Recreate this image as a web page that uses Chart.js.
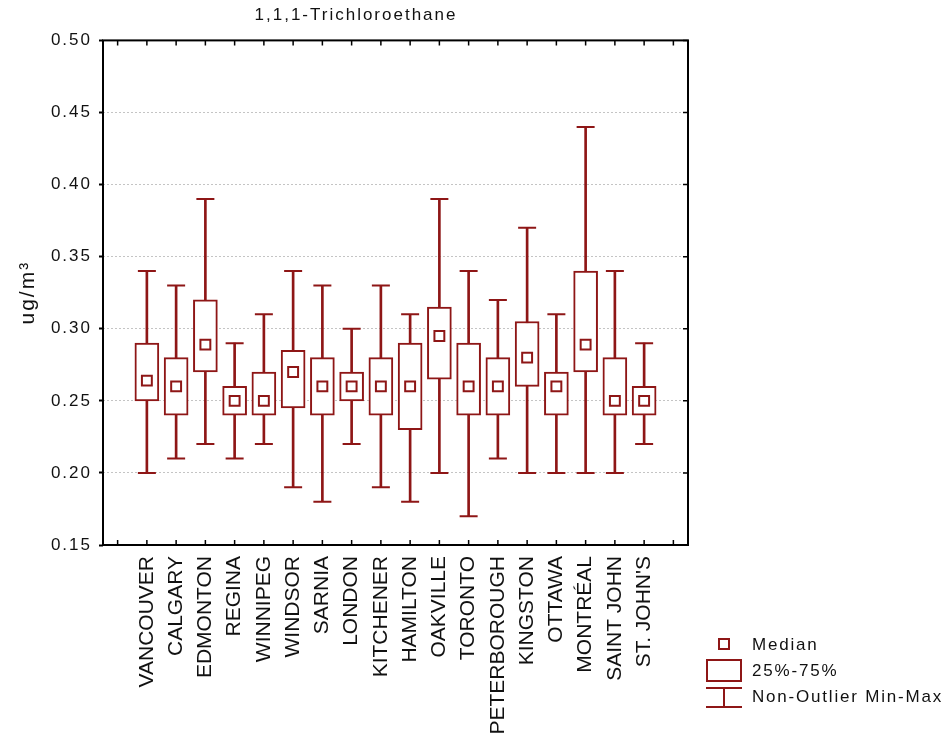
<!DOCTYPE html>
<html>
<head>
<meta charset="utf-8">
<script src="https://cdn.jsdelivr.net/npm/chart.js@4/dist/chart.umd.min.js"></script>
<style>
  html, body { margin: 0; padding: 0; background: #fff; }
  #wrap { width: 948px; height: 740px; }
</style>
</head>
<body>
<div id="wrap"><canvas id="grafico" width="948" height="740"></canvas></div>
<script>
const cities = ["VANCOUVER", "CALGARY", "EDMONTON", "REGINA", "WINNIPEG", "WINDSOR", "SARNIA",
    "LONDON", "KITCHENER", "HAMILTON", "OAKVILLE", "TORONTO", "PETERBOROUGH", "KINGSTON",
    "OTTAWA", "MONTRÉAL", "SAINT JOHN", "ST. JOHN'S"];
const minValues    = [0.20, 0.21, 0.22, 0.21, 0.22, 0.19, 0.18, 0.22, 0.19, 0.18, 0.20, 0.17, 0.21, 0.20, 0.20, 0.20, 0.20, 0.22];
const q1Values     = [0.25, 0.24, 0.27, 0.24, 0.24, 0.245, 0.24, 0.25, 0.24, 0.23, 0.265, 0.24, 0.24, 0.26, 0.24, 0.27, 0.24, 0.24];
const medianValues = [0.264, 0.26, 0.289, 0.25, 0.25, 0.27, 0.26, 0.26, 0.26, 0.26, 0.295, 0.26, 0.26, 0.28, 0.26, 0.289, 0.25, 0.25];
const q3Values     = [0.29, 0.28, 0.32, 0.26, 0.27, 0.285, 0.28, 0.27, 0.28, 0.29, 0.315, 0.29, 0.28, 0.305, 0.27, 0.34, 0.28, 0.26];
const maxValues    = [0.34, 0.33, 0.39, 0.29, 0.31, 0.34, 0.33, 0.30, 0.33, 0.31, 0.39, 0.34, 0.32, 0.37, 0.31, 0.44, 0.34, 0.29];
const yTickValues  = [0.15, 0.20, 0.25, 0.30, 0.35, 0.40, 0.45, 0.50];

const RED = "#8e1616";
const FONT = "'Liberation Sans', Arial, sans-serif";

// empty slot at each end, like the original axis
const labels = ["", ...cities, ""];
const pad = arr => [null, ...arr, null];

const frame = {
    id: "frame",
    beforeDraw(chart) {
        chart.ctx.letterSpacing = "2px";
    },
    afterDatasetsDraw(chart) {
        // x labels are drawn after this (ticks.z = 1) and have no extra spacing
        chart.ctx.letterSpacing = "0px";
    },
    afterDraw(chart) {
        const { ctx, chartArea: a, scales: { x, y } } = chart;
        ctx.save();
        ctx.strokeStyle = "#000";
        ctx.lineWidth = 2;
        ctx.strokeRect(a.left, a.top, a.right - a.left, a.bottom - a.top);

        ctx.lineWidth = 1.5;
        ctx.beginPath();
        x.ticks.forEach((t, i) => {
            const px = x.getPixelForTick(i);
            ctx.moveTo(px, a.bottom); ctx.lineTo(px, a.bottom - 5);
            ctx.moveTo(px, a.top); ctx.lineTo(px, a.top + 5);
        });
        y.ticks.forEach((t, i) => {
            const py = y.getPixelForTick(i);
            ctx.moveTo(a.right, py); ctx.lineTo(a.right - 5, py);
        });
        ctx.stroke();

        // legend
        ctx.strokeStyle = RED;
        ctx.lineWidth = 2;
        ctx.strokeRect(719, 639, 10, 10);
        ctx.strokeRect(707, 660, 34, 21);
        ctx.beginPath();
        ctx.moveTo(706, 688); ctx.lineTo(742, 688);
        ctx.moveTo(706, 707); ctx.lineTo(742, 707);
        ctx.moveTo(724, 688); ctx.lineTo(724, 707);
        ctx.stroke();

        ctx.letterSpacing = "1.8px";
        ctx.fillStyle = "#111";
        ctx.font = "17px " + FONT;
        ctx.textBaseline = "middle";
        ctx.textAlign = "left";
        ctx.fillText("Median", 752, 645);
        ctx.fillText("25%-75%", 752, 671);
        ctx.fillText("Non-Outlier Min-Max", 752, 697);
        ctx.restore();
    }
};

new Chart(document.getElementById("grafico"), {
    data: {
        labels: labels,
        datasets: [
            {
                type: "bar",
                label: "whisker",
                data: pad(cities.map((_, i) => [minValues[i], maxValues[i]])),
                backgroundColor: RED,
                borderWidth: 0,
                barThickness: 2,
                grouped: false,
                order: 4,
            },
            {
                type: "bar",
                label: "25%-75%",
                data: pad(cities.map((_, i) => [q1Values[i], q3Values[i]])),
                backgroundColor: "#fff",
                borderColor: RED,
                borderWidth: 2,
                borderSkipped: false,
                barThickness: 24,
                grouped: false,
                order: 3,
            },
            {
                type: "line",
                label: "min",
                data: pad(minValues),
                showLine: false,
                pointStyle: "line",
                pointRadius: 9,
                pointBorderWidth: 2,
                pointBorderColor: RED,
                order: 2,
            },
            {
                type: "line",
                label: "max",
                data: pad(maxValues),
                showLine: false,
                pointStyle: "line",
                pointRadius: 9,
                pointBorderWidth: 2,
                pointBorderColor: RED,
                order: 2,
            },
            {
                type: "line",
                label: "Median",
                data: pad(medianValues),
                showLine: false,
                pointStyle: "rect",
                pointRadius: 7,
                pointBorderWidth: 2,
                pointBorderColor: RED,
                pointBackgroundColor: "#fff",
                order: 1,
            },
        ],
    },
    options: {
        responsive: false,
        animation: false,
        events: [],
        layout: { padding: { left: 0, right: 236, top: 0, bottom: 0 } },
        plugins: {
            legend: { display: false },
            tooltip: { enabled: false },
            title: {
                display: true,
                text: "1,1,1-Trichloroethane",
                color: "#111",
                font: { family: FONT, size: 17, weight: "normal" },
                padding: { top: 5, bottom: 15 },
            },
        },
        scales: {
            x: {
                offset: true,
                grid: { display: false },
                border: { display: false },
                ticks: {
                    autoSkip: false,
                    minRotation: 90,
                    maxRotation: 90,
                    padding: 3,
                    color: "#111",
                    font: { family: FONT, size: 21 },
                    z: 1,
                },
                afterFit: s => { s.height = 195; },
            },
            y: {
                min: 0.15,
                max: 0.50,
                afterBuildTicks: s => { s.ticks = yTickValues.map(v => ({ value: v })); },
                ticks: {
                    padding: 7,
                    color: "#111",
                    font: { family: FONT, size: 17 },
                    callback: v => v.toFixed(2),
                },
                grid: {
                    color: "#c4c4c4",
                    lineWidth: 1,
                    tickLength: 4,
                    tickColor: "#000",
                    tickWidth: 2,
                    tickBorderDash: [],
                },
                border: { display: false, dash: [2, 2] },
                title: {
                    display: true,
                    text: "ug/m³",
                    color: "#111",
                    font: { family: FONT, size: 21 },
                    padding: { top: 16, bottom: 0 },
                },
                afterFit: s => { s.width = 103; },
            },
            yR: {
                position: "right",
                display: true,
                ticks: { display: false },
                grid: { display: false },
                border: { display: false },
                afterFit: s => { s.width = 24; },
            },
        },
    },
    plugins: [frame],
});
</script>
</body>
</html>
